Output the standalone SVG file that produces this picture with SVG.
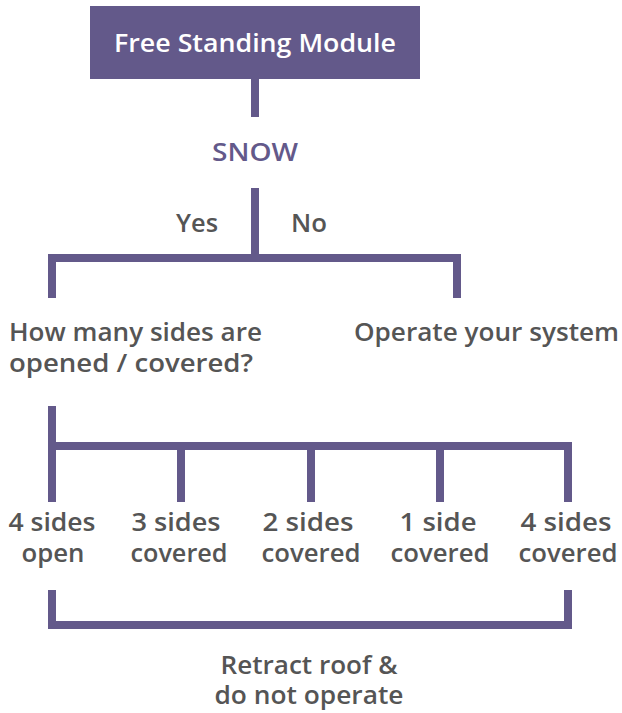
<svg xmlns="http://www.w3.org/2000/svg" width="622" height="713" viewBox="0 0 622 713">
<style>
.t{font-family:"Open Sans","Lato","Liberation Sans",sans-serif;font-weight:600;font-size:24.5px;fill:#555555}
.w{fill:#ffffff}
.p{fill:#63598a}
.c{text-anchor:middle}
.ln{fill:none;stroke:#63598a;stroke-width:8;stroke-linecap:butt;stroke-linejoin:miter}
</style>
<rect width="622" height="713" fill="#ffffff"/>
<g id="connectors">
<path class="ln" d="M255,79 V117"/>
<path class="ln" d="M255,188 V258"/>
<path class="ln" d="M52,298 V258 H457 V298"/>
<path class="ln" d="M52,406 V502"/>
<path class="ln" d="M52,446 H568 V502"/>
<path class="ln" d="M181,446 V502"/>
<path class="ln" d="M311,446 V502"/>
<path class="ln" d="M440,446 V502"/>
<path class="ln" d="M52,590 V625 H568 V590"/>
</g>
<g id="node-module">
<rect x="90" y="6" width="330" height="73" fill="#63598a"/>
<text class="t w c" x="255" y="52" textLength="282" lengthAdjust="spacingAndGlyphs">Free Standing Module</text>
</g>
<g id="node-snow">
<text class="t p c" x="255" y="161" textLength="86" lengthAdjust="spacingAndGlyphs">SNOW</text>
</g>
<g id="label-yes"><text class="t c" x="197" y="232" textLength="42" lengthAdjust="spacingAndGlyphs">Yes</text></g>
<g id="label-no"><text class="t c" x="309" y="232" textLength="36" lengthAdjust="spacingAndGlyphs">No</text></g>
<g id="node-how-many">
<text class="t" x="9" y="341" textLength="253" lengthAdjust="spacingAndGlyphs">How many sides are</text>
<text class="t" x="9" y="372" textLength="244" lengthAdjust="spacingAndGlyphs">opened / covered?</text>
</g>
<g id="node-operate">
<text class="t" x="354" y="341" textLength="265" lengthAdjust="spacingAndGlyphs">Operate your system</text>
</g>
<g id="node-4open">
<text class="t c" x="52" y="531" textLength="87" lengthAdjust="spacingAndGlyphs">4 sides</text>
<text class="t c" x="53" y="562" textLength="63" lengthAdjust="spacingAndGlyphs">open</text>
</g>
<g id="node-3covered">
<text class="t c" x="176" y="531" textLength="89" lengthAdjust="spacingAndGlyphs">3 sides</text>
<text class="t c" x="179" y="562" textLength="97" lengthAdjust="spacingAndGlyphs">covered</text>
</g>
<g id="node-2covered">
<text class="t c" x="308" y="531" textLength="91" lengthAdjust="spacingAndGlyphs">2 sides</text>
<text class="t c" x="311" y="562" textLength="99" lengthAdjust="spacingAndGlyphs">covered</text>
</g>
<g id="node-1covered">
<text class="t c" x="438" y="531" textLength="77" lengthAdjust="spacingAndGlyphs">1 side</text>
<text class="t c" x="440" y="562" textLength="99" lengthAdjust="spacingAndGlyphs">covered</text>
</g>
<g id="node-4covered">
<text class="t c" x="566" y="531" textLength="91" lengthAdjust="spacingAndGlyphs">4 sides</text>
<text class="t c" x="568" y="562" textLength="99" lengthAdjust="spacingAndGlyphs">covered</text>
</g>
<g id="node-retract">
<text class="t c" x="309" y="674" textLength="177" lengthAdjust="spacingAndGlyphs">Retract roof &amp;</text>
<text class="t c" x="309" y="704" textLength="189" lengthAdjust="spacingAndGlyphs">do not operate</text>
</g>
</svg>
